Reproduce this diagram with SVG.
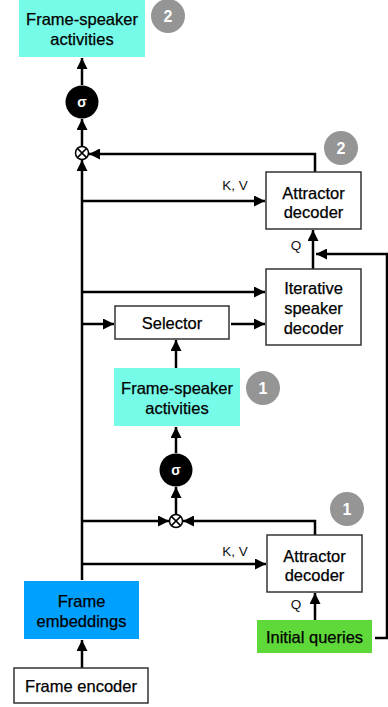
<svg xmlns="http://www.w3.org/2000/svg" width="388" height="707" viewBox="0 0 388 707">
<defs>
<marker id="ah" viewBox="0 0 10 10" refX="10" refY="5" markerWidth="11" markerHeight="11" markerUnits="userSpaceOnUse" orient="auto"><path d="M0,0 L10,5 L0,10 z" fill="#000"/></marker>
<style>
.t{font-family:"Liberation Sans",Arial,sans-serif;font-size:16.5px;fill:#000;stroke:#000;stroke-width:0.25;text-anchor:middle}
.s{font-family:"Liberation Sans",Arial,sans-serif;font-size:13.5px;fill:#111;text-anchor:middle}
.box{fill:#fff;stroke:#333;stroke-width:1.5}
.cyan{fill:#76fbe8}
.badge{fill:#959595}
.bn{font-family:"Liberation Sans",Arial,sans-serif;font-size:16px;font-weight:bold;fill:#fff;text-anchor:middle}
.sig{font-family:"Liberation Sans",Arial,sans-serif;font-size:14px;font-weight:bold;fill:#fff;text-anchor:middle}
.c{fill:none;stroke:#000;stroke-width:2.5;marker-end:url(#ah)}
</style>
</defs>
<rect width="388" height="707" fill="#fff"/>

<g id="connectors">
<path class="c" d="M82,668 V640"/>
<path class="c" d="M82,580 V160"/>
<path class="c" d="M82,146 V119"/>
<path class="c" d="M82,85 V58"/>
<path class="c" d="M315,172 V154 H89"/>
<path class="c" d="M82,201 H265"/>
<path class="c" d="M313,269 V230"/>
<path class="c" d="M375,638 H387 V254 H316"/>
<path class="c" d="M82,292 H265"/>
<path class="c" d="M82,324 H114"/>
<path class="c" d="M231,324 H265"/>
<path class="c" d="M176,368 V340"/>
<path class="c" d="M176,453 V427"/>
<path class="c" d="M176,514 V487"/>
<path class="c" d="M82,521 H169"/>
<path class="c" d="M315,535 V521 H183"/>
<path class="c" d="M82,564 H266"/>
<path class="c" d="M315,620 V593"/>
<text class="s" x="235" y="190">K, V</text>
<text class="s" x="296" y="250">Q</text>
<text class="s" x="235" y="556">K, V</text>
<text class="s" x="296" y="609">Q</text>
</g>

<g id="frame-encoder">
<rect class="box" x="14" y="668" width="134" height="35"/>
<text class="t" x="81" y="692">Frame encoder</text>
</g>

<g id="frame-embeddings">
<rect x="24" y="581" width="115" height="58" fill="#00a0fe"/>
<text class="t" x="81.5" y="607">Frame</text>
<text class="t" x="81.5" y="627">embeddings</text>
</g>

<g id="initial-queries">
<rect x="257" y="620" width="115" height="33" fill="#5fd83a"/>
<text class="t" x="314.5" y="643">Initial queries</text>
</g>

<g id="attractor-decoder-1">
<rect class="box" x="267" y="535" width="95" height="57"/>
<text class="t" x="314.5" y="562">Attractor</text>
<text class="t" x="314.5" y="581">decoder</text>
</g>

<g id="badge-1b">
<circle class="badge" cx="347" cy="509" r="17"/>
<text class="bn" x="347" y="515">1</text>
</g>

<g id="mult-1">
<circle cx="176" cy="521" r="6.5" fill="#fff" stroke="#000" stroke-width="1.5"/>
<path d="M171.4,516.4 L180.6,525.6 M180.6,516.4 L171.4,525.6" stroke="#000" stroke-width="1.5"/>
</g>

<g id="sigma-1">
<circle cx="176" cy="470" r="16.5" fill="#000"/>
<text class="sig" x="176" y="475">σ</text>
</g>

<g id="activities-1">
<rect class="cyan" x="114" y="368" width="126" height="58"/>
<text class="t" x="177" y="394">Frame-speaker</text>
<text class="t" x="177" y="414">activities</text>
</g>

<g id="badge-1a">
<circle class="badge" cx="263" cy="388" r="17"/>
<text class="bn" x="263" y="394">1</text>
</g>

<g id="selector">
<rect class="box" x="115" y="306" width="114" height="33"/>
<text class="t" x="172" y="329">Selector</text>
</g>

<g id="iterative-speaker-decoder">
<rect class="box" x="266" y="269" width="95" height="76"/>
<text class="t" x="313.5" y="294">Iterative</text>
<text class="t" x="313.5" y="314">speaker</text>
<text class="t" x="313.5" y="334">decoder</text>
</g>

<g id="attractor-decoder-2">
<rect class="box" x="266" y="172" width="95" height="57"/>
<text class="t" x="313.5" y="199">Attractor</text>
<text class="t" x="313.5" y="218">decoder</text>
</g>

<g id="badge-2b">
<circle class="badge" cx="341" cy="148" r="17"/>
<text class="bn" x="341" y="154">2</text>
</g>

<g id="mult-2">
<circle cx="82" cy="153" r="6.5" fill="#fff" stroke="#000" stroke-width="1.5"/>
<path d="M77.4,148.4 L86.6,157.6 M86.6,148.4 L77.4,157.6" stroke="#000" stroke-width="1.5"/>
</g>

<g id="sigma-2">
<circle cx="82" cy="102" r="16.5" fill="#000"/>
<text class="sig" x="82" y="107">σ</text>
</g>

<g id="activities-2">
<rect class="cyan" x="19" y="0" width="126" height="57"/>
<text class="t" x="82" y="25">Frame-speaker</text>
<text class="t" x="82" y="45">activities</text>
</g>

<g id="badge-2a">
<circle class="badge" cx="168" cy="16" r="17"/>
<text class="bn" x="168" y="22">2</text>
</g>
</svg>
